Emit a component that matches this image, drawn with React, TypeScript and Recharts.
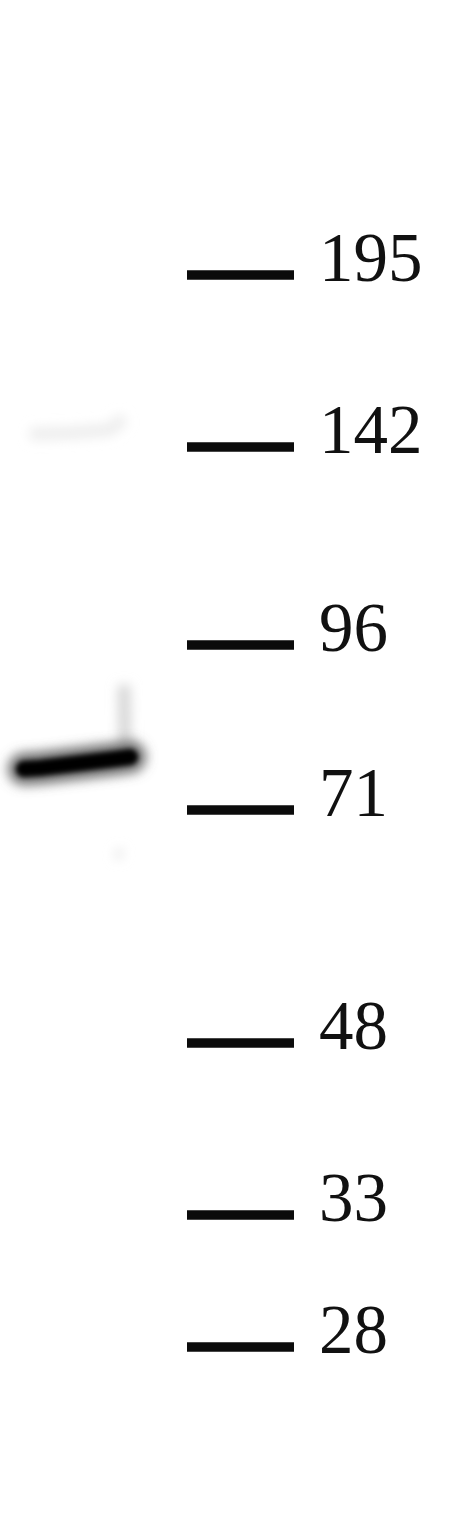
import { ComposedChart, XAxis, YAxis, Line, Scatter, ReferenceLine } from "recharts";

// gel coordinates in mm (x: across the membrane, y: migration from top)
const markerKda = ["195", "142", "96", "71", "48", "33", "28"];
const markerMigration = [27.5, 44.7, 64.5, 81.0, 104.3, 121.5, 134.7];
const ladderLane = [18.7, 29.4];
const labelX = 31.9;

// main band in the sample lane
const bandX = [2.4, 4.0, 6.5, 9.0, 11.5, 13.0];
const bandY = [76.9, 76.8, 76.5, 76.2, 75.9, 75.7];

// faint smear above the band and weak spots
const smearX = [12.4, 12.5];
const smearY = [68.5, 75.0];
const faintX = [3.0, 7.0, 11.0, 12.4];
const faintY = [43.4, 43.3, 43.0, 41.8];
const spotX = [11.6, 12.2];
const spotY = [85.3, 85.5];

const W = 461;
const H = 1520;

const band = bandX.map((x, i) => ({ x, y: bandY[i] }));
const smear = smearX.map((x, i) => ({ x, y: smearY[i] }));
const faint = faintX.map((x, i) => ({ x, y: faintY[i] }));
const spot = spotX.map((x, i) => ({ x, y: spotY[i] }));
const labels = markerKda.map((kda, i) => ({ x: labelX, y: markerMigration[i], kda }));

const LabelShape = (props: any) => {
  const { cx, cy, payload } = props;
  return (
    <text
      x={cx}
      y={cy + 6}
      fontFamily="'Liberation Serif', 'Times New Roman', serif"
      fontSize={69}
      fill="#111"
    >
      {payload.kda}
    </text>
  );
};

export default function App() {
  return (
    <div style={{ position: "absolute", left: 0, top: 0, width: W, height: H, background: "#fff" }}>
      <ComposedChart width={W} height={H} margin={{ top: 0, right: 0, bottom: 0, left: 0 }}>
        <defs>
          <filter id="blurBig" filterUnits="userSpaceOnUse" x={0} y={0} width={W} height={H}>
            <feGaussianBlur stdDeviation={6} />
          </filter>
          <filter id="blurSmall" filterUnits="userSpaceOnUse" x={0} y={0} width={W} height={H}>
            <feGaussianBlur stdDeviation={2.5} />
          </filter>
        </defs>
        <XAxis type="number" dataKey="x" domain={[0, W / 10]} hide allowDataOverflow />
        <YAxis type="number" dataKey="y" domain={[0, H / 10]} reversed hide allowDataOverflow />

        {markerMigration.map((m) => (
          <ReferenceLine
            key={m}
            segment={[
              { x: ladderLane[0], y: m },
              { x: ladderLane[1], y: m },
            ]}
            stroke="#0b0b0b"
            strokeWidth={9.5}
          />
        ))}

        <Line
          data={faint}
          dataKey="y"
          stroke="#ececec"
          strokeWidth={12}
          dot={false}
          activeDot={false}
          filter="url(#blurBig)"
          isAnimationActive={false}
        />
        <Line
          data={spot}
          dataKey="y"
          stroke="#e2e2e2"
          strokeWidth={10}
          dot={false}
          activeDot={false}
          filter="url(#blurBig)"
          isAnimationActive={false}
        />
        <Line
          data={smear}
          dataKey="y"
          stroke="#d4d4d4"
          strokeWidth={12}
          dot={false}
          activeDot={false}
          filter="url(#blurBig)"
          isAnimationActive={false}
        />
        <Line
          data={band}
          dataKey="y"
          stroke="#6a6a6a"
          strokeWidth={32}
          strokeLinecap="round"
          dot={false}
          activeDot={false}
          filter="url(#blurBig)"
          isAnimationActive={false}
        />
        <Line
          data={band}
          dataKey="y"
          stroke="#050505"
          strokeWidth={16}
          strokeLinecap="round"
          dot={false}
          activeDot={false}
          filter="url(#blurSmall)"
          isAnimationActive={false}
        />

        <Scatter data={labels} dataKey="y" shape={LabelShape} isAnimationActive={false} />
      </ComposedChart>
    </div>
  );
}
